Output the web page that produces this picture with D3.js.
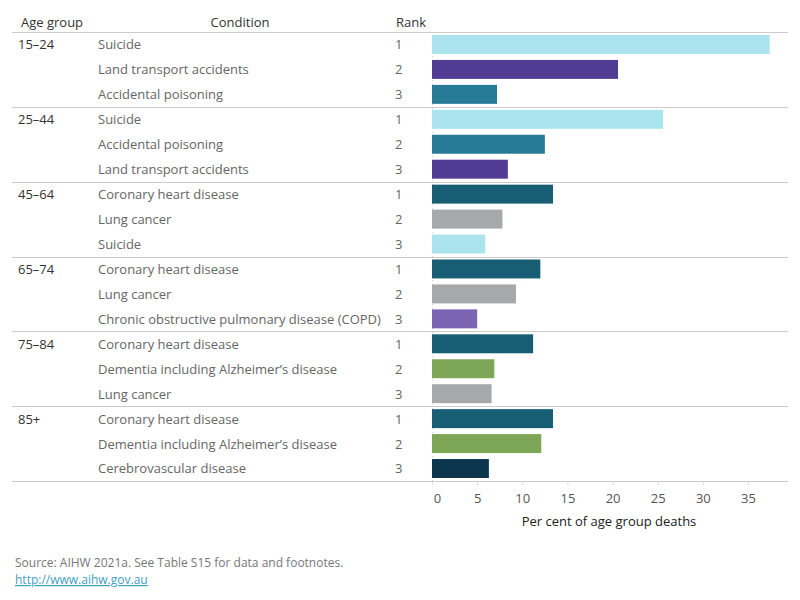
<!DOCTYPE html>
<html>
<head>
<meta charset="utf-8">
<script src="https://cdn.jsdelivr.net/npm/d3@7"></script>
<style>
  body{ margin:0; background:#fff; }
  svg text{ font-family:"Open Sans", "Noto Sans", sans-serif; }
</style>
</head>
<body>
<div id="chart"></div>
<script>
// Data.
var age_groups = [ '15–24', '25–44', '45–64', '65–74', '75–84', '85+' ];
var conditions = [
  [ 'Suicide', 'Land transport accidents', 'Accidental poisoning' ],
  [ 'Suicide', 'Accidental poisoning', 'Land transport accidents' ],
  [ 'Coronary heart disease', 'Lung cancer', 'Suicide' ],
  [ 'Coronary heart disease', 'Lung cancer', 'Chronic obstructive pulmonary disease (COPD)' ],
  [ 'Coronary heart disease', 'Dementia including Alzheimer’s disease', 'Lung cancer' ],
  [ 'Coronary heart disease', 'Dementia including Alzheimer’s disease', 'Cerebrovascular disease' ]
];
var percents = [
  [ 37.4, 20.6, 7.2 ],
  [ 25.6, 12.5, 8.4 ],
  [ 13.4, 7.8, 5.9 ],
  [ 12.0, 9.3, 5.0 ],
  [ 11.2, 6.9, 6.6 ],
  [ 13.4, 12.1, 6.3 ]
];
var ranks = [ 1, 2, 3 ];
var x_ticks = [ 0, 5, 10, 15, 20, 25, 30, 35 ];

var condition_colors = {
  'Suicide': '#abe3ee',
  'Land transport accidents': '#513c94',
  'Accidental poisoning': '#287b96',
  'Coronary heart disease': '#175d73',
  'Lung cancer': '#a5a9ab',
  'Chronic obstructive pulmonary disease (COPD)': '#7b64b3',
  'Dementia including Alzheimer’s disease': '#7da757',
  'Cerebrovascular disease': '#0b364d'
};

// Flatten into rows.
var rows = [];
age_groups.forEach( function( g, i ){
  ranks.forEach( function( r, j ){
    rows.push( { group: g, gi: i, rank: r, condition: conditions[i][j], value: percents[i][j], key: i + '-' + j } );
  } );
} );

var width = 800, height = 600;
var top_y = 32, bottom_y = 481;
var line_left = 12, line_right = 788;

var svg = d3.select( '#chart' ).append( 'svg' )
  .attr( 'width', width )
  .attr( 'height', height );

var x_scale = d3.scaleLinear()
  .domain( [ 0, 35 ] )
  .range( [ 432, 748 ] );

var y_scale = d3.scaleBand()
  .domain( rows.map( function( d ){ return d.key } ) )
  .range( [ top_y, bottom_y ] )
  .paddingInner( 0.24 )
  .paddingOuter( 0.12 );

// Header labels.
var header = svg.append( 'g' ).attr( 'fill', '#333' ).attr( 'font-size', '13px' );
header.append( 'text' ).attr( 'x', 21 ).attr( 'y', 27 ).text( 'Age group' );
header.append( 'text' ).attr( 'x', 240 ).attr( 'y', 27 ).attr( 'text-anchor', 'middle' ).text( 'Condition' );
header.append( 'text' ).attr( 'x', 396 ).attr( 'y', 27 ).text( 'Rank' );

// Dotted zero line between bars.
svg.append( 'line' )
  .attr( 'x1', x_scale( 0 ) + 0.5 ).attr( 'x2', x_scale( 0 ) + 0.5 )
  .attr( 'y1', top_y ).attr( 'y2', bottom_y )
  .attr( 'stroke', '#ccc' )
  .attr( 'stroke-dasharray', '1,3' );

// Bars.
svg.append( 'g' )
  .selectAll( 'rect' )
  .data( rows )
  .enter().append( 'rect' )
    .attr( 'x', x_scale( 0 ) )
    .attr( 'y', function( d ){ return y_scale( d.key ) } )
    .attr( 'width', function( d ){ return x_scale( d.value ) - x_scale( 0 ) } )
    .attr( 'height', y_scale.bandwidth() )
    .attr( 'fill', function( d ){ return condition_colors[ d.condition ] } );

// Row labels.
var row_text = svg.append( 'g' ).attr( 'font-size', '13px' );
row_text.selectAll( '.cond' )
  .data( rows )
  .enter().append( 'text' )
    .attr( 'x', 98 )
    .attr( 'y', function( d ){ return y_scale( d.key ) + y_scale.bandwidth() / 2 } )
    .attr( 'dy', '0.38em' )
    .attr( 'fill', '#666' )
    .text( function( d ){ return d.condition } );
row_text.selectAll( '.rank' )
  .data( rows )
  .enter().append( 'text' )
    .attr( 'x', 395 )
    .attr( 'y', function( d ){ return y_scale( d.key ) + y_scale.bandwidth() / 2 } )
    .attr( 'dy', '0.38em' )
    .attr( 'fill', '#666' )
    .text( function( d ){ return d.rank } );
row_text.selectAll( '.grp' )
  .data( rows.filter( function( d ){ return d.rank == 1 } ) )
  .enter().append( 'text' )
    .attr( 'x', 18 )
    .attr( 'y', function( d ){ return y_scale( d.key ) + y_scale.bandwidth() / 2 } )
    .attr( 'dy', '0.38em' )
    .attr( 'fill', '#333' )
    .text( function( d ){ return d.group } );

// Group separators.
var group_lines = age_groups.map( function( g, i ){
  return i == 0 ? top_y : ( y_scale( i + '-0' ) - y_scale.step() * y_scale.paddingInner() / 2 );
} );
group_lines.push( bottom_y );
svg.append( 'g' )
  .selectAll( 'line' )
  .data( group_lines )
  .enter().append( 'line' )
    .attr( 'x1', line_left ).attr( 'x2', line_right )
    .attr( 'y1', function( d ){ return Math.round( d ) + 0.5 } )
    .attr( 'y2', function( d ){ return Math.round( d ) + 0.5 } )
    .attr( 'stroke', '#ccc' );

// X axis.
var x_axis = svg.append( 'g' )
  .attr( 'transform', 'translate(0,' + ( bottom_y + 1 ) + ')' )
  .call( d3.axisBottom( x_scale ).tickValues( x_ticks ).tickSize( 3 ).tickPadding( 9 ) );
x_axis.select( '.domain' ).remove();
x_axis.selectAll( '.tick line' ).attr( 'stroke', '#ddd' );
x_axis.selectAll( '.tick text' )
  .attr( 'fill', '#555' )
  .attr( 'font-size', '13px' )
  .attr( 'font-family', '"Open Sans", sans-serif' )
  .attr( 'dx', function( d ){ return d == 0 ? 5 : 0 } );

svg.append( 'text' )
  .attr( 'x', 609 ).attr( 'y', 526 )
  .attr( 'text-anchor', 'middle' )
  .attr( 'font-size', '13px' )
  .attr( 'fill', '#222' )
  .text( 'Per cent of age group deaths' );

// Footer.
svg.append( 'text' )
  .attr( 'x', 15 ).attr( 'y', 567 )
  .attr( 'font-size', '12px' )
  .attr( 'fill', '#777' )
  .text( 'Source: AIHW 2021a. See Table S15 for data and footnotes.' );
svg.append( 'text' )
  .attr( 'x', 15 ).attr( 'y', 584 )
  .attr( 'font-size', '12px' )
  .attr( 'fill', '#3f9fc6' )
  .attr( 'text-decoration', 'underline' )
  .text( 'http://www.aihw.gov.au' );
</script>
</body>
</html>
